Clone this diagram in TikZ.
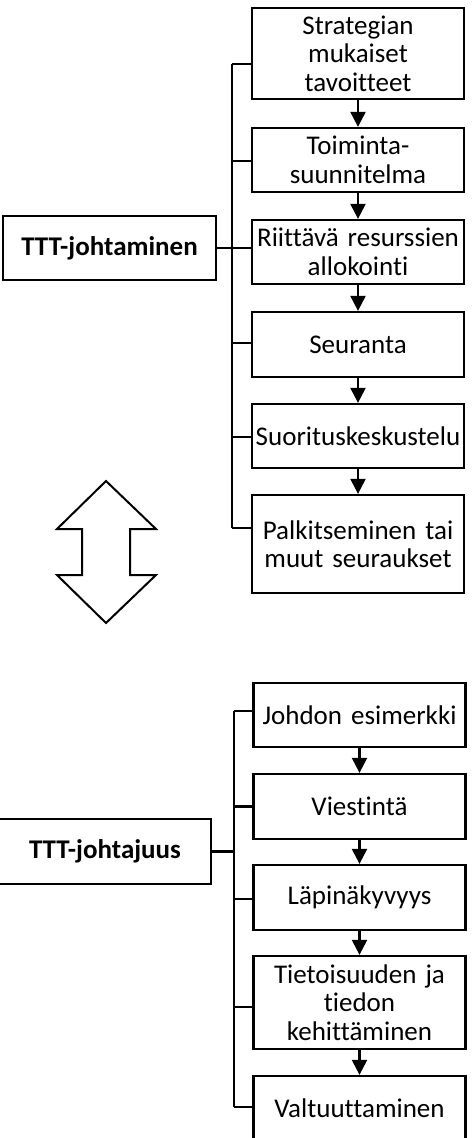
\documentclass[tikz,border=0pt]{standalone}
\usepackage{fontspec}
\setmainfont{Carlito}[Ligatures=NoCommon]
\usetikzlibrary{arrows.meta}
\begin{document}
\begin{tikzpicture}[x=1pt,y=-1pt,
  box/.style={draw=black,line width=2.3pt,fill=white,minimum width=212pt,inner sep=0pt,
    text width=212pt,align=center,font=\fontsize{27}{28.5}\selectfont},
  mainbox/.style={box,font=\fontsize{27}{28.5}\selectfont\bfseries},
  conn/.style={line width=2.3pt},
  flow/.style={line width=2.3pt,-{Triangle[width=15pt,length=15pt]}},
  dbl/.style={line width=2pt,fill=white,line join=miter}]
\useasboundingbox (0,0) rectangle (474,1138);
% upper group
\node[box,minimum height=91pt] (a1) at (358,53.5) {Strategian\\mukaiset\\tavoitteet};
\node[box,minimum height=64pt] (a2) at (358,160) {Toiminta-\\suunnitelma};
\node[box,minimum height=64pt] (a3) at (358,252) {Riittävä resurssien\\allokointi};
\node[box,minimum height=65pt] (a4) at (358,344.5) {Seuranta};
\node[box,minimum height=64pt] (a5) at (358,436) {Suorituskeskustelu};
\node[box,minimum height=98pt] (a6) at (358,544) {Palkitseminen tai\\muut seuraukset};
\node[mainbox,minimum width=213pt,text width=213pt,minimum height=64pt] (m1) at (109.5,248) {TTT-johtaminen};
\coordinate (bt1) at (232,64);
\coordinate (bb1) at (232,528);
\draw[conn] (bt1) -- (bb1);
\draw[conn] (bt1) -- ([yshift=-10.5pt]a1.west);
\draw[conn] (bt1 |- 0,161) -- ([yshift=-1pt]a2.west);
\draw[conn] (m1.east) -- ([yshift=4pt]a3.west);
\draw[conn] (bt1 |- 0,343) -- ([yshift=1.5pt]a4.west);
\draw[conn] (bt1 |- 0,437) -- ([yshift=-1pt]a5.west);
\draw[conn] (bb1) -- ([yshift=16pt]a6.west);
\foreach \u/\v in {a1/a2,a2/a3,a3/a4,a4/a5,a5/a6}
  \draw[flow] (\u.south) -- (\v.north);
% double arrow
\draw[dbl] (106,481) -- (156,529) -- (130,529) -- (130,575) -- (156,575) -- (106,623)
  -- (57,575) -- (82,575) -- (82,529) -- (57,529) -- cycle;
% lower group
\node[box,minimum height=64pt] (b1) at (359.5,715) {Johdon esimerkki};
\node[box,minimum height=65pt] (b2) at (359.5,806.5) {Viestintä};
\node[box,minimum height=65pt] (b3) at (359.5,897.5) {Läpinäkyvyys};
\node[box,minimum height=93pt] (b4) at (359.5,1002.5) {Tietoisuuden ja\\tiedon\\kehittäminen};
\node[box,minimum height=64pt] (b5) at (359.5,1108) {Valtuuttaminen};
\node[mainbox,minimum width=212pt,text width=212pt,minimum height=65pt] (m2) at (105,851.5) {TTT-johtajuus};
\coordinate (bt2) at (234,711);
\coordinate (bb2) at (234,1107);
\draw[conn] (bt2) -- (bb2);
\draw[conn] (bt2) -- ([yshift=4pt]b1.west);
\draw[conn] (bt2 |- b2.west) -- (b2.west);
\draw[conn] (m2.east) -- (bt2 |- m2.east);
\draw[conn] (bt2 |- 0,899) -- ([yshift=-1.5pt]b3.west);
\draw[conn] (bt2 |- 0,1007) -- ([yshift=-4.5pt]b4.west);
\draw[conn] (bb2) -- ([yshift=1pt]b5.west);
\foreach \u/\v in {b1/b2,b2/b3,b3/b4,b4/b5}
  \draw[flow] (\u.south) -- (\v.north);
\end{tikzpicture}
\end{document}
